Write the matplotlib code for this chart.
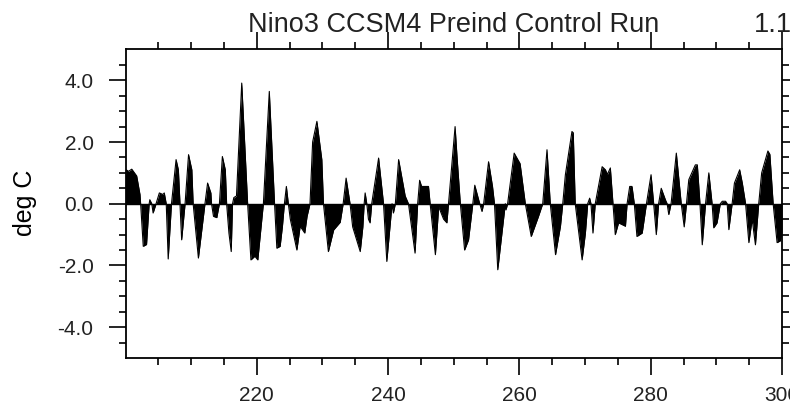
import numpy as np
import matplotlib
matplotlib.use('Agg')
import matplotlib.pyplot as plt
from matplotlib.ticker import FixedLocator, FormatStrFormatter

# Nino3 SST anomaly (deg C), turning points
years = [200.0, 200.1, 200.45, 200.95, 201.7, 202.2, 202.3, 202.7, 203.2, 203.6,
         203.7, 204.0, 204.2, 204.65, 205.15, 205.7, 205.9, 206.2, 206.5, 207.0,
         207.7, 208.05, 208.3, 208.55, 209.07, 209.6, 210.1, 210.3, 211.1, 212.1,
         212.5, 213.0, 213.1, 213.4, 213.9, 214.3, 214.75, 215.2, 215.4, 215.75,
         216.1, 216.3, 216.5, 216.9, 217.7, 218.6, 219.1, 219.7, 220.15, 220.85,
         221.0, 221.9, 222.7, 223.05, 223.55, 223.9, 224.2, 224.5, 224.8, 225.1,
         226.1, 226.6, 227.3, 227.65, 228.1, 228.5, 229.15, 229.9, 230.15, 230.9,
         231.7, 232.7, 233.15, 233.6, 234.2, 234.6, 235.75, 236.15, 236.35, 236.5,
         236.75, 237.0, 237.25, 237.5, 238.55, 239.3, 239.8, 240.6, 240.8, 241.1,
         241.6, 242.6, 243.1, 244.1, 244.5, 244.8, 245.1, 246.15, 246.4, 247.2,
         247.7, 248.45, 248.95, 249.2, 249.6, 250.2, 250.5, 251.0, 251.65, 252.25,
         252.9, 253.2, 253.8, 254.3, 254.55, 255.3, 255.9, 256.2, 256.7, 257.85,
         257.95, 258.2, 259.2, 260.1, 260.9, 261.8, 262.9, 263.55, 264.2, 264.7,
         265.5, 266.25, 266.6, 267.0, 268.0, 268.2, 268.5, 269.55, 270.05, 270.4,
         270.7, 270.9, 271.2, 271.55, 272.6, 273.1, 273.4, 273.85, 274.25, 274.6,
         275.1, 276.15, 276.4, 276.8, 277.15, 277.5, 277.9, 278.7, 279.35, 280.05,
         280.45, 280.85, 281.2, 281.6, 282.25, 282.5, 282.75, 283.1, 283.9, 284.65,
         285.1, 285.45, 285.8, 286.8, 287.1, 287.5, 287.85, 288.35, 288.85, 289.35,
         289.6, 290.1, 290.6, 290.9, 291.4, 291.65, 291.9, 292.4, 292.75, 293.55,
         293.95, 294.45, 294.95, 295.45, 295.95, 296.45, 296.9, 297.85, 298.15, 298.65,
         299.25, 299.75, 300.0]
sst = [0.9, 1.1, 1.05, 1.12, 0.9, 0.3, 0.0, -1.38, -1.32, 0.0,
       0.13, 0.0, -0.3, 0.0, 0.35, 0.3, 0.35, 0.0, -1.79, 0.0,
       1.43, 1.1, 0.0, -1.17, 0.0, 1.59, 1.1, 0.0, -1.76, 0.0,
       0.67, 0.35, 0.0, -0.41, -0.45, 0.0, 1.53, 1.1, 0.0, -0.95,
       -1.55, 0.0, 0.2, 0.25, 3.91, 0.0, -1.82, -1.7, -1.82, -0.3,
       0.0, 3.64, 0.0, -1.44, -1.38, -0.73, 0.0, 0.56, 0.0, -0.5,
       -1.5, -0.73, -0.95, -0.41, 0.0, 2.0, 2.67, 1.43, 0.0, -1.55,
       -0.85, -0.6, 0.0, 0.83, 0.0, -0.75, -1.55, -0.75, 0.0, 0.35,
       0.0, -0.5, -0.62, 0.0, 1.48, 0.0, -1.87, 0.0, -0.3, 0.0,
       1.43, 0.25, 0.0, -1.6, 0.0, 0.76, 0.56, 0.56, 0.0, -1.65,
       -0.1, -0.5, -0.62, 0.0, 1.0, 2.5, 1.5, 0.0, -1.5, -1.17,
       0.0, 0.6, 0.12, -0.25, 0.0, 1.36, 0.56, 0.0, -2.14, 0.0,
       -0.2, 0.0, 1.64, 1.3, 0.0, -1.06, -0.41, 0.0, 1.75, 0.0,
       -1.65, -0.73, 0.0, 0.94, 2.34, 2.3, 0.0, -1.82, -0.95, 0.0,
       0.18, 0.0, -0.95, 0.0, 1.2, 1.1, 0.95, 1.16, 0.0, -1.0,
       -0.62, -0.73, 0.0, 0.56, 0.56, 0.0, -1.06, -0.95, 0.0, 0.94,
       0.0, -1.0, 0.0, 0.5, 0.12, 0.0, -0.35, 0.0, 1.64, 0.0,
       -0.75, 0.0, 0.78, 1.26, 1.26, 0.0, -1.33, 0.0, 1.0, 0.0,
       -0.78, -0.62, 0.0, 0.08, 0.08, 0.0, -0.84, 0.0, 0.67, 1.1,
       0.67, 0.0, -1.26, -0.5, -1.33, 0.0, 1.0, 1.71, 1.6, 0.0,
       -1.26, -1.2, -0.9]

x_major = [220, 240, 260, 280, 300]
y_major = [-4, -2, 0, 2, 4]

plt.rcParams['font.family'] = ['Liberation Sans', 'DejaVu Sans']

fig = plt.figure(figsize=(7.9, 4.12), dpi=100)
ax = fig.add_axes([0.1589, 0.131, 0.8310, 0.749])

x = np.array(years)
y = np.array(sst)
ax.fill_between(x, y, 0, color='black', linewidth=0)
ax.plot(x, y, color='black', linewidth=0.8)
ax.axhline(0, color='black', linewidth=1.0)

ax.set_xlim(200, 300)
ax.set_ylim(-5, 5)
ax.xaxis.set_major_locator(FixedLocator(x_major))
ax.xaxis.set_minor_locator(FixedLocator(np.arange(205, 300, 5)))
ax.yaxis.set_major_locator(FixedLocator(y_major))
ax.yaxis.set_minor_locator(FixedLocator(np.arange(-4.5, 5.0, 0.5)))
ax.yaxis.set_major_formatter(FormatStrFormatter('%.1f'))

for s in ax.spines.values():
    s.set_linewidth(1.3)
ax.tick_params(which='both', direction='out', top=True, right=True, width=1.2, colors='black')
ax.tick_params(which='major', length=12, labelsize=15)
ax.tick_params(which='minor', length=5)
ax.tick_params(axis='x', which='major', pad=8)
ax.tick_params(axis='y', which='major', pad=11)
for lbl in ax.get_xticklabels() + ax.get_yticklabels():
    lbl.set_color('#222222')

# axis label and the two title strings (centre and right)
fig.text(25 / 790, 0.507, 'deg C', fontsize=18, rotation=90, ha='center', va='center')
fig.text(0.5743, 0.922, 'Nino3 CCSM4 Preind Control Run', fontsize=19.5,
         ha='center', va='baseline', color='#222222')
fig.text(1.003, 0.922, '1.1', fontsize=19.5, ha='right', va='baseline', color='#222222')

fig.savefig('out.png', dpi=100)
